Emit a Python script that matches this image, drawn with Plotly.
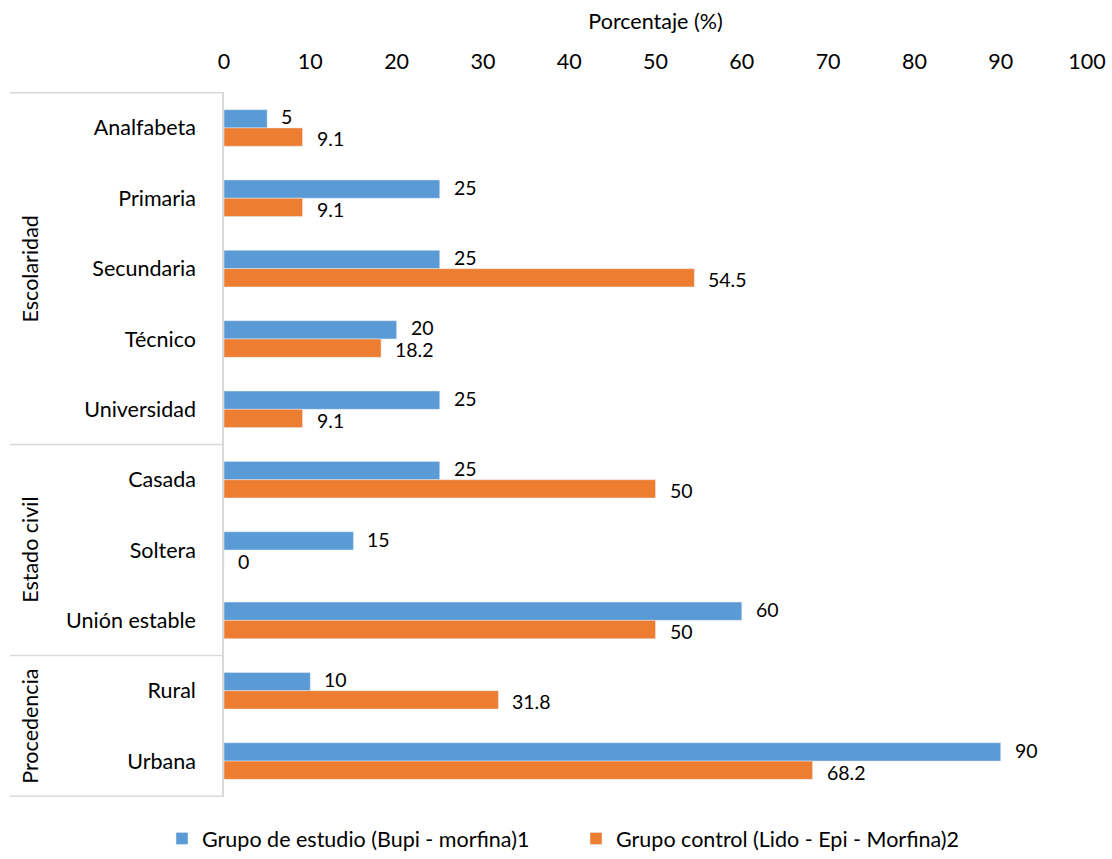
import plotly.graph_objects as go

categories = ["Analfabeta", "Primaria", "Secundaria", "Técnico", "Universidad",
              "Casada", "Soltera", "Unión estable", "Rural", "Urbana"]
estudio = [5, 25, 25, 20, 25, 25, 15, 60, 10, 90]
control = [9.1, 9.1, 54.5, 18.2, 9.1, 50, 0, 50, 31.8, 68.2]
series_names = ["Grupo de estudio (Bupi - morfina)1", "Grupo control (Lido - Epi - Morfina)2"]
groups = [("Escolaridad", 0, 4), ("Estado civil", 5, 7), ("Procedencia", 8, 9)]

FONT = "Lato"
FS = 21.5
fig = go.Figure()
fig.add_trace(go.Bar(y=categories, x=estudio, orientation="h", name=series_names[0],
                     marker_color="#5B9BD5", legend="legend"))
fig.add_trace(go.Bar(y=categories, x=control, orientation="h", name=series_names[1],
                     marker_color="#ED7D31", legend="legend2"))

# data labels
for vals, shift in ((estudio, 11), (control, -11)):
    for c, v in zip(categories, vals):
        fig.add_annotation(x=v, y=c, xref="x", yref="y", text=str(v), showarrow=False,
                           xanchor="left", yanchor="middle", xshift=12, yshift=shift,
                           font=dict(size=19.5, color="#000"))

leg_common = dict(orientation="h", xanchor="left", yref="container", xref="container",
                  y=0.0, yanchor="bottom", font=dict(size=FS), itemwidth=30,
                  bgcolor="rgba(0,0,0,0)")
fig.update_layout(
    width=1112, height=859,
    barmode="group", bargap=0.48, bargroupgap=0,
    plot_bgcolor="white", paper_bgcolor="white",
    font=dict(family=FONT, size=FS, color="#000"),
    margin=dict(l=224, r=25, t=92, b=62, autoexpand=False),
    xaxis=dict(side="top", range=[0, 100], dtick=10, showgrid=False, zeroline=False,
               showline=False, ticks="", ticklabelstandoff=18,
               title=dict(text="Porcentaje (%)", standoff=12, font=dict(size=FS))),
    yaxis=dict(autorange="reversed", showgrid=False, showline=True, linecolor="#d9d9d9",
               linewidth=1.5, ticks="", ticklabelstandoff=22, range=[9.5, -0.5]),
    legend=dict(x=162 / 1112, **leg_common),
    legend2=dict(x=576 / 1112, **leg_common),
    showlegend=True,
)

bounds = [-0.5, 4.5, 7.5, 9.5]
for b in bounds:
    fig.add_shape(type="line", xref="paper", yref="y", x0=-0.248, x1=0, y0=b, y1=b,
                  line=dict(color="#d9d9d9", width=1.5))

for name, a, b in groups:
    fig.add_annotation(text=name, xref="paper", yref="y", x=-0.225, y=(a + b) / 2,
                       textangle=-90, showarrow=False, font=dict(size=FS),
                       xanchor="center", yanchor="middle")

fig.write_html("out.html")
